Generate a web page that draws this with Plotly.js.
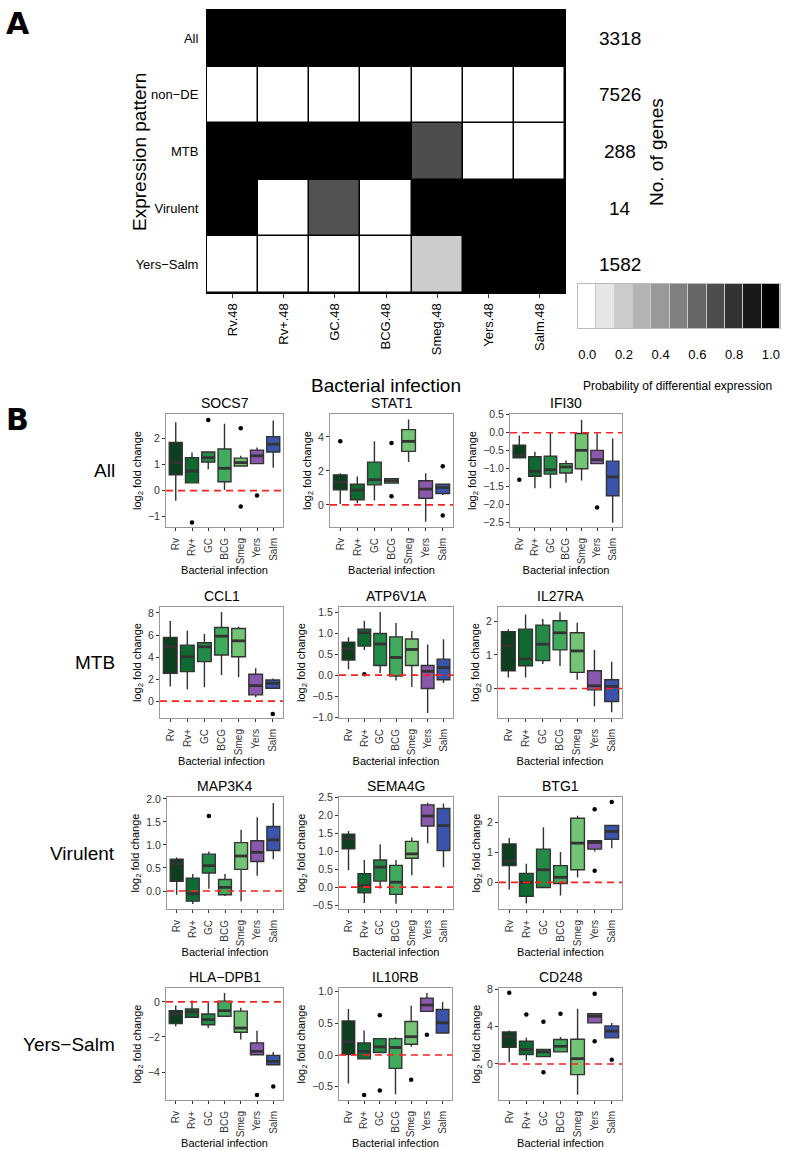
<!DOCTYPE html>
<html><head><meta charset="utf-8">
<script src="https://cdn.plot.ly/plotly-3.0.1.min.js"></script>
<style>html,body{margin:0;padding:0;background:#fff}</style>
</head><body><div id="chart" style="width:787px;height:1150px"></div>
<script>
// ---------- DATA ----------
const categories = ['Rv','Rv+','GC','BCG','Smeg','Yers','Salm'];
const boxColors = ['#0d3f1f','#0e6a30','#238b45','#41ab5d','#74c476','#8a58ad','#3a54ad'];
const heatCols = ['Rv.48','Rv+.48','GC.48','BCG.48','Smeg.48','Yers.48','Salm.48'];
const patterns = ['All','non\u2212DE','MTB','Virulent','Yers\u2212Salm'];
const geneCounts = ['3318','7526','288','14','1582'];
const probAll      = [1,1,1,1,1,1,1];
const probNonDE    = [0,0,0,0,0,0,0];
const probMTB      = [1,1,1,1,0.7,0,0];
const probVirulent = [1,0,0.68,0,1,1,1];
const probYersSalm = [0,0,0,0,0.2,1,1];
const legendVals = [0,0.1,0.2,0.3,0.4,0.5,0.6,0.7,0.8,0.9,1.0];
const legendTicks = [0,0.2,0.4,0.6,0.8,1.0];
const rowGroups = ['All','MTB','Virulent','Yers\u2212Salm'];
const geneNames = ['SOCS7','STAT1','IFI30','CCL1','ATP6V1A','IL27RA','MAP3K4','SEMA4G','BTG1','HLA\u2212DPB1','IL10RB','CD248'];

// per gene: [lowerWhisker, q1, median, q3, upperWhisker] for each category
const SOCS7 = [[-0.39,0.61,1.08,1.85,2.63],[0.3,0.3,0.75,1.27,1.47],[0.82,1.1,1.27,1.49,1.49],[0.02,0.34,0.86,1.6,2.57],[0.95,0.95,1.08,1.25,1.34],[1.04,1.04,1.34,1.56,1.66],[0.88,1.49,1.79,2.08,2.7]];
const SOCS7_out = [[],[-1.23],[2.72],[],[2.4,-0.61],[-0.19],[]];
const STAT1 = [[0.06,0.89,1.34,1.77,1.87],[0.1,0.3,0.87,1.22,1.67],[0.26,1.18,1.48,2.52,3.74],[1.28,1.28,1.42,1.54,1.54],[2.52,3.15,3.74,4.43,5.02],[-0.99,0.39,0.93,1.42,1.87],[0.59,0.67,1.02,1.22,1.22]];
const STAT1_out = [[3.74],[],[],[3.65,0.51],[],[],[2.27,-0.63]];
const IFI30 = [[-0.7,-0.7,-0.63,-0.35,-0.08],[-1.54,-1.21,-1.07,-0.67,-0.53],[-1.54,-1.15,-1.03,-0.65,0.0],[-1.39,-1.12,-0.95,-0.86,-0.77],[-1.33,-1.0,-0.49,-0.02,0.36],[-0.86,-0.86,-0.75,-0.49,-0.02],[-2.5,-1.75,-1.23,-0.79,-0.16]];
const IFI30_out = [[-1.31],[],[],[],[],[-2.08],[]];
const CCL1 = [[1.32,2.53,4.93,5.77,7.28],[1.08,2.68,4.03,5.08,6.38],[1.26,3.58,4.93,5.29,6.08],[2.38,4.18,5.89,6.68,8.09],[2.17,4.03,5.47,6.59,6.74],[0.36,0.57,1.41,2.44,2.98],[1.17,1.17,1.62,1.92,2.05]];
const CCL1_out = [[],[],[],[],[],[],[-1.17]];
const ATP6V1A = [[0.14,0.36,0.62,0.78,0.9],[0.6,0.69,1.01,1.09,1.29],[0.05,0.23,0.74,0.99,1.5],[-0.13,-0.02,0.42,0.91,1.24],[-0.28,0.23,0.61,0.86,1.05],[-0.9,-0.32,0.09,0.23,0.73],[-0.19,-0.11,0.18,0.38,0.85]];
const ATP6V1A_out = [[],[0.02],[],[],[],[],[]];
const IL27RA = [[0.33,0.53,1.28,1.69,1.77],[0.33,0.68,0.88,1.77,2.21],[0.73,0.83,1.32,1.89,2.07],[0.67,1.15,1.66,2.02,2.27],[0.26,0.48,1.12,1.66,1.96],[-0.53,-0.04,0.08,0.53,1.15],[-0.71,-0.39,0.06,0.26,0.8]];
const IL27RA_out = [[],[],[],[],[],[],[]];
const MAP3K4 = [[-0.08,0.21,0.59,0.69,0.73],[-0.28,-0.22,-0.06,0.28,0.37],[0.05,0.39,0.55,0.8,0.86],[-0.11,-0.08,0.08,0.25,0.37],[-0.22,0.47,0.76,1.05,1.33],[0.33,0.64,0.84,1.09,1.6],[0.69,0.88,1.11,1.4,1.91]];
const MAP3K4_out = [[],[],[1.63],[],[],[],[]];
const SEMA4G = [[0.47,1.07,1.35,1.48,1.57],[-0.44,-0.16,0.05,0.38,0.76],[-0.04,0.17,0.56,0.76,1.2],[-0.46,-0.2,0.14,0.61,0.76],[0.33,0.81,0.93,1.28,1.39],[1.23,1.71,1.99,2.3,2.36],[0.56,1.02,1.72,2.2,2.34]];
const SEMA4G_out = [[],[],[],[],[],[],[]];
const BTG1 = [[-0.24,0.56,0.72,1.28,1.48],[-0.71,-0.47,0.0,0.3,0.62],[-0.17,-0.17,0.42,1.11,1.84],[-0.44,-0.04,0.17,0.56,1.01],[0.17,0.42,1.31,2.14,2.22],[1.03,1.11,1.33,1.39,1.39],[1.14,1.44,1.7,1.9,1.92]];
const BTG1_out = [[],[],[],[],[],[2.44,0.39],[2.68]];
const HLADPB1 = [[-1.41,-1.24,-0.69,-0.5,-0.21],[-0.88,-0.88,-0.57,-0.4,0.08],[-1.49,-1.3,-1.01,-0.69,-0.06],[-0.82,-0.82,-0.5,0.04,0.51],[-2.15,-1.73,-1.49,-0.53,-0.34],[-3.01,-3.01,-2.82,-2.34,-1.64],[-3.58,-3.58,-3.39,-3.05,-2.86]];
const HLADPB1_out = [[],[],[],[],[],[-5.3],[-4.82]];
const IL10RB = [[-0.45,0.01,0.21,0.54,0.73],[-0.06,-0.06,0.06,0.19,0.39],[0.04,0.04,0.13,0.26,0.26],[-0.62,-0.21,0.12,0.26,0.28],[0.13,0.17,0.29,0.53,0.78],[0.69,0.69,0.79,0.9,0.98],[0.35,0.35,0.51,0.72,0.84]];
const IL10RB_out = [[],[-0.63],[0.63,-0.56],[],[-0.39],[0.32],[]];
const CD248 = [[0.18,1.79,2.89,3.43,3.57],[0.36,1.0,1.54,2.43,2.79],[0.79,0.79,1.29,1.54,1.61],[1.29,1.29,1.89,2.61,2.89],[-3.3,-1.14,0.57,2.64,5.89],[4.39,4.39,5.1,5.36,5.36],[2.79,2.79,3.5,4.07,4.39]];
const CD248_out = [[7.61],[5.29],[4.5,-0.89],[5.36],[],[7.5,2.43],[0.46]];

const geneStats = [SOCS7,STAT1,IFI30,CCL1,ATP6V1A,IL27RA,MAP3K4,SEMA4G,BTG1,HLADPB1,IL10RB,CD248];
const geneOut = [SOCS7_out,STAT1_out,IFI30_out,CCL1_out,ATP6V1A_out,IL27RA_out,MAP3K4_out,SEMA4G_out,BTG1_out,HLADPB1_out,IL10RB_out,CD248_out];

// ---------- LAYOUT HELPERS (pixel -> paper) ----------
const W = 787, H = 1150;
const xd = (a,b) => [a/W, b/W];
const yd = (top,bot) => [1-bot/H, 1-top/H];
const FONT = 'Liberation Sans, Arial, sans-serif';

const panelX = [[166,283],[330,453],[510,622],[160,283],[339,453],[498,622],[167,283],[339,453],[499,622],[166,283],[339,452],[499,622]];
const panelRowsY = [[414,527],[607,718],[797,909],[988,1100]];
const yRanges = [[-1.4,2.95],[-1.3,5.35],[-2.62,0.52],[-1.53,8.54],[-1.02,1.62],[-0.88,2.43],[-0.39,2.04],[-0.61,2.52],[-0.89,2.85],[-5.59,0.79],[-0.71,1.06],[-3.85,8.12]];
const yDticks = [1,2,0.5,2,0.5,1,0.5,0.5,1,2,0.5,4];
const yFormats = ['d','d','.1f','d','.1f','d','.1f','.1f','d','d','.1f','d'];

const traces = [];
const layout = {
  width: W, height: H, margin:{l:0,r:0,t:0,b:0},
  paper_bgcolor:'#fff', plot_bgcolor:'#fff', showlegend:false,
  font:{family:FONT, color:'#000'},
  annotations:[], shapes:[]
};
function note(px, py, text, size, extra){
  layout.annotations.push(Object.assign({xref:'paper', yref:'paper', x:px/W, y:1-py/H, text:text,
    showarrow:false, xanchor:'center', yanchor:'middle', font:{size:size, family:FONT, color:'#000'}}, extra||{}));
}

// ---------- HEATMAP (A) ----------
traces.push({
  type:'heatmap', x: heatCols, y: patterns,
  z:[probAll,probNonDE,probMTB,probVirulent,probYersSalm],
  zmin:0, zmax:1, colorscale:[[0,'#ffffff'],[1,'#000000']], showscale:false,
  xgap:1.5, ygap:1.5, xaxis:'x', yaxis:'y', hoverinfo:'skip'
});
layout.xaxis = {domain: xd(207,565), anchor:'y', type:'category', tickangle:-90,
  tickfont:{size:13, family:FONT}, ticks:'outside', ticklen:4, tickcolor:'#333',
  showline:true, linecolor:'#000', linewidth:1, mirror:true, showgrid:false, zeroline:false,
  title:{text:'Bacterial infection', font:{size:19, family:FONT}, standoff:24}};
layout.yaxis = {domain: yd(10,293), anchor:'x', type:'category', autorange:'reversed',
  tickfont:{size:13, family:FONT}, ticks:'', ticklabelstandoff:5,
  showline:true, linecolor:'#000', linewidth:1, mirror:true, showgrid:false, zeroline:false};
layout.shapes.push({type:'rect', xref:'x domain', yref:'y domain', x0:0,x1:1,y0:0,y1:1,
  fillcolor:'#000', line:{width:0}, layer:'below'});
patterns.forEach((p,i)=>{
  layout.annotations.push({xref:'paper', yref:'y', x:620/W, y:i, text:geneCounts[i],
    showarrow:false, font:{size:19, family:FONT}, xanchor:'center', yanchor:'middle'});
});
note(139, 152, 'Expression pattern', 19, {textangle:-90});
note(656, 152, 'No. of genes', 19, {textangle:-90});

// legend strip
traces.push({
  type:'heatmap', x: legendVals, y:[0], z:[legendVals], zmin:0, zmax:1,
  colorscale:[[0,'#ffffff'],[1,'#000000']], showscale:false, xgap:1, ygap:0,
  xaxis:'x14', yaxis:'y14', hoverinfo:'skip'
});
layout.xaxis14 = {domain: xd(578,780), anchor:'y14', range:[-0.05,1.05], tickvals:legendTicks,
  ticktext: legendTicks.map(v=>v.toFixed(1)), tickfont:{size:13, family:FONT}, ticks:'',
  ticklabelstandoff:14, showline:true, mirror:true, linecolor:'#bbb', showgrid:false, zeroline:false};
layout.yaxis14 = {domain: yd(284,328), anchor:'x14', range:[-0.5,0.5], showticklabels:false,
  ticks:'', showline:true, mirror:true, linecolor:'#bbb', showgrid:false, zeroline:false};
layout.shapes.push({type:'rect', xref:'x14 domain', yref:'y14 domain', x0:0,x1:1,y0:0,y1:1,
  fillcolor:'#c8c8c8', line:{width:0}, layer:'below'});
note(677, 386, 'Probability of differential expression', 12);

// panel letters
note(4, 4, '<b>A</b>', 30, {xanchor:'left', yanchor:'top', font:{size:30, family:'DejaVu Sans, sans-serif', color:'#000'}});
note(4, 400, '<b>B</b>', 30, {xanchor:'left', yanchor:'top', font:{size:30, family:'DejaVu Sans, sans-serif', color:'#000'}});

// ---------- BOXPLOT PANELS (B) ----------
geneNames.forEach((g,p)=>{
  const n = p+2;            // axes x2..x13 / y2..y13
  const xa = 'x'+n, ya = 'y'+n;
  const xk = 'xaxis'+n, yk = 'yaxis'+n;
  const row = Math.floor(p/3);
  const [top,bot] = panelRowsY[row];
  const stats = geneStats[p];
  const outs = geneOut[p];
  stats.forEach((s,i)=>{
    traces.push({type:'box', x:[i], lowerfence:[s[0]], q1:[s[1]], median:[s[2]], q3:[s[3]], upperfence:[s[4]],
      xaxis:xa, yaxis:ya, width:0.8, whiskerwidth:0, boxpoints:false,
      fillcolor:boxColors[i], line:{color:'#333333', width:1.4}, hoverinfo:'skip', showlegend:false});
  });
  const mx=[], my=[];
  stats.forEach((s,i)=>{ mx.push(i-0.4,i+0.4,null); my.push(s[2],s[2],null); });
  traces.push({type:'scatter', mode:'lines', x:mx, y:my, xaxis:xa, yaxis:ya,
    line:{color:'#333333', width:2.8}, hoverinfo:'skip', showlegend:false});
  const ox=[], oy=[];
  outs.forEach((arr,i)=>arr.forEach(v=>{ox.push(i); oy.push(v);}));
  traces.push({type:'scatter', mode:'markers', x:ox, y:oy, xaxis:xa, yaxis:ya,
    marker:{color:'#000', size:4.5}, hoverinfo:'skip', showlegend:false});

  layout[xk] = {domain: xd(panelX[p][0], panelX[p][1]), anchor:ya, range:[-0.6,6.6],
    tickvals:[0,1,2,3,4,5,6], ticktext:categories, tickangle:-90,
    tickfont:{size:10, family:FONT, color:'#333'}, ticks:'outside', ticklen:3, tickcolor:'#333',
    ticklabelstandoff:3,
    showline:true, mirror:true, linecolor:'#999', linewidth:1, showgrid:false, zeroline:false,
    title:{text:'Bacterial infection', font:{size:11, family:FONT}, standoff:1}};
  layout[yk] = {domain: yd(top,bot), anchor:xa, range:yRanges[p], dtick:yDticks[p], tick0:0,
    tickformat:yFormats[p], tickfont:{size:10.5, family:FONT, color:'#333'},
    ticks:'outside', ticklen:3, tickcolor:'#333',
    showline:true, mirror:true, linecolor:'#999', linewidth:1, showgrid:false, zeroline:false,
    title:{text:'log<sub>2</sub> fold change', font:{size:11, family:FONT}, standoff:4}};
  layout.shapes.push({type:'line', xref:xa+' domain', yref:ya, x0:0, x1:1, y0:0, y1:0,
    line:{color:'#ff2020', width:1.6, dash:'7px,5px'}, layer:'above'});
  note((panelX[p][0]+panelX[p][1])/2, top-1, g, 14, {yanchor:'bottom'});
});

rowGroups.forEach((r,i)=>{
  const [top,bot] = panelRowsY[i];
  note(117, (top+bot)/2, r, 19, {xanchor:'right'});
});

Plotly.newPlot('chart', traces, layout, {staticPlot:true});
</script></body></html>
